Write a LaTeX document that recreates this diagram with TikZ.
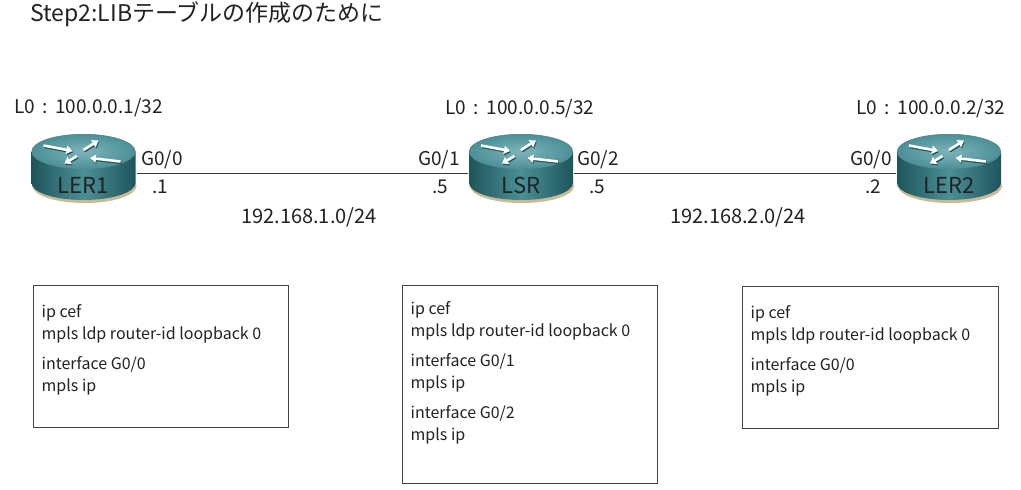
\documentclass[tikz,border=0pt]{standalone}
\usepackage{fontspec}
\setmainfont{Noto Sans CJK JP}
\usetikzlibrary{arrows.meta}
\definecolor{tealdark}{HTML}{1E555B}
\definecolor{tealmid}{HTML}{4A9097}
\definecolor{teallight}{HTML}{7FB4B9}
\definecolor{shadowtan}{HTML}{C9B994}
\definecolor{ink}{HTML}{222222}
\definecolor{boxgray}{HTML}{444444}
\newcommand{\routerart}{%
  \begin{scope}[shift={(path picture bounding box.center)}]
    \fill[shadowtan] (1,17.5) ellipse [x radius=52pt, y radius=17pt];
    \shade[left color=tealdark, right color=tealdark, middle color=tealmid]
      (-52,-17) -- (-52,14.5) arc[start angle=180, end angle=360, x radius=52pt, y radius=17pt] -- (52,-17) -- cycle;
    \shade[inner color=teallight, outer color=tealmid] (0,-17) ellipse [x radius=52pt, y radius=17.5pt];
    \draw[tealdark!70, line width=0.6pt] (0,-17) ellipse [x radius=51.6pt, y radius=17.1pt];
    \foreach \a/\b in {{-40,-23}/{-11,-17.5}, {0,-18.5}/{15,-28}, {-6.5,-12.5}/{-19,-5}, {37,-7}/{6.5,-10.5}}{
      \draw[rshadow] ([shift={(0.8,1.3)}]\a) -- ([shift={(0.8,1.3)}]\b);
      \draw[rarrow] (\a) -- (\b);
    }
  \end{scope}}
\newcommand{\lsep}{\hspace{7.5pt}:\hspace{7.5pt}}
\begin{document}
\begin{tikzpicture}[x=1pt,y=-1pt,
  lbl/.style={font=\fontsize{19}{21}\selectfont, text=ink, inner sep=0pt},
  link/.style={draw=ink!90, line width=1.4pt},
  cfg/.style={draw=boxgray, line width=1.3pt, inner xsep=8pt, inner ysep=0pt, anchor=north west,
    font=\fontsize{16}{22}\selectfont, text=ink},
  rarrow/.style={white, line width=2.6pt, -{Triangle[length=6pt,width=8pt]}},
  rshadow/.style={tealdark, line width=2.6pt, -{Triangle[length=6pt,width=8pt]}},
  router/.style={minimum width=106pt, minimum height=72pt, inner sep=0pt,
    path picture={\routerart},
    label={[font=\fontsize{22}{24}\selectfont, text=ink, yshift=-17pt, inner sep=0pt]center:#1}}
]
\useasboundingbox (0,0) rectangle (1021,490);
\fill[white] (0,0) rectangle (1021,490);

\node[anchor=west, font=\fontsize{23}{25}\selectfont, text=ink, inner sep=0pt] (title) at (30,14) {Step2:LIBテーブルの作成のために};

\node[router=LER1] (LER1) at (83.5,168.5) {};
\node[router=LSR]  (LSR)  at (521,168.5) {};
\node[router=LER2] (LER2) at (949,168.5) {};

\draw[link] ([yshift=-5pt]LER1.east) -- ([yshift=-5pt]LSR.west);
\draw[link] ([yshift=-5pt]LSR.east) -- ([yshift=-5pt]LER2.west);

\node[lbl] (lo1) at (88.5,108) {L0\lsep 100.0.0.1/32};
\node[lbl] (lo5) at (520,109) {L0\lsep 100.0.0.5/32};
\node[lbl] (lo2) at (931,109) {L0\lsep 100.0.0.2/32};

\node[lbl] (g00a) at (162,160) {G0/0};
\node[lbl] (d1)   at (160,187) {.1};
\node[lbl] (g01)  at (439,160) {G0/1};
\node[lbl] (d5a)  at (440,187) {.5};
\node[lbl] (g02)  at (598,160) {G0/2};
\node[lbl] (d5b)  at (597,187) {.5};
\node[lbl] (g00b) at (871,160) {G0/0};
\node[lbl] (d2)   at (873,187) {.2};

\node[lbl, font=\fontsize{20}{22}\selectfont] (net1) at (309,217) {192.168.1.0/24};
\node[lbl, font=\fontsize{20}{22}\selectfont] (net2) at (738,217) {192.168.2.0/24};

\node[cfg] (cfg1) at (33,285) {\parbox[c][142pt][t]{239pt}{\vspace*{19pt}ip cef\\
mpls ldp router-id loopback 0\\[8pt]
interface G0/0\\
mpls ip}};
\node[cfg] (cfg2) at (402,285) {\parbox[c][198pt][t]{239pt}{\vspace*{16pt}ip cef\\
mpls ldp router-id loopback 0\\[8pt]
interface G0/1\\
mpls ip\\[8pt]
interface G0/2\\
mpls ip}};
\node[cfg] (cfg3) at (742,286) {\parbox[c][142pt][t]{240pt}{\vspace*{19pt}ip cef\\
mpls ldp router-id loopback 0\\[8pt]
interface G0/0\\
mpls ip}};
\end{tikzpicture}
\end{document}
